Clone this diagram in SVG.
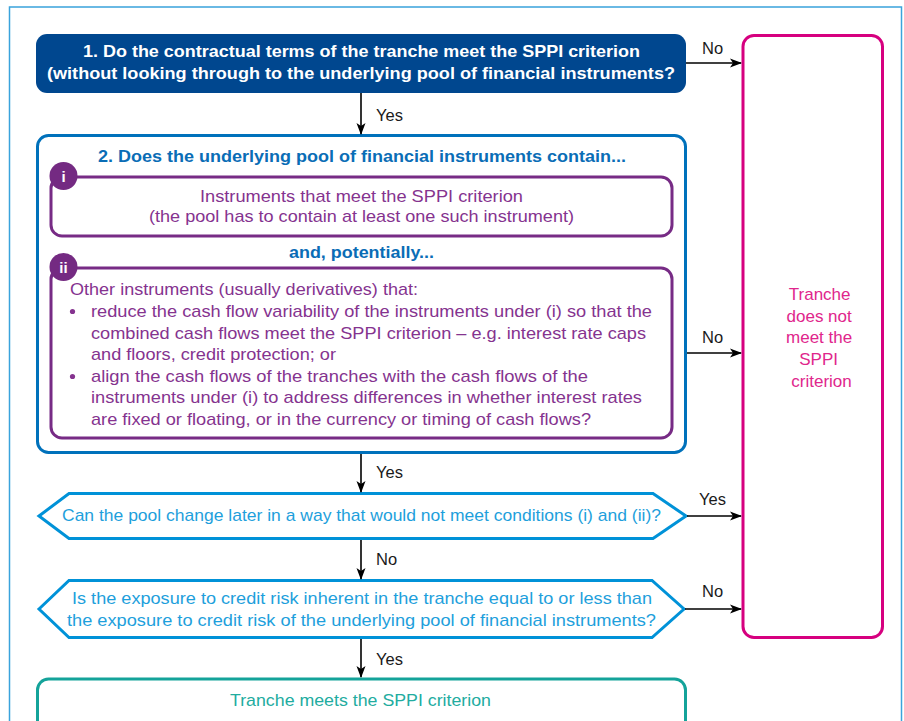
<svg xmlns="http://www.w3.org/2000/svg" width="904" height="721" viewBox="0 0 904 721">
<defs>
<marker id="ah" markerWidth="12" markerHeight="10" refX="11" refY="5" orient="auto" markerUnits="userSpaceOnUse">
<path d="M0,0.5 L12,5 L0,9.5 L3,5 Z" fill="#000"/>
</marker>
<style>
text{font-family:"Liberation Sans",Arial,sans-serif;}
.lbl{font-size:16.5px;fill:#1a1a1a;}
.conn{stroke:#000;stroke-width:1.6;fill:none;marker-end:url(#ah);}
.q1{font-size:17px;font-weight:bold;fill:#fff;text-anchor:middle;}
.q2{font-size:17px;font-weight:bold;fill:#0A6DB6;text-anchor:middle;}
.pt{font-size:17px;fill:#85338F;}
.hex{fill:#fff;stroke:#0092D8;stroke-width:3;}
.ht{font-size:17px;fill:#1E9FDC;text-anchor:middle;}
.badge{fill:#742A82;}
.bt{font-size:15px;font-weight:bold;fill:#fff;text-anchor:middle;}
</style>
</defs>
<rect x="0" y="0" width="904" height="721" fill="#fff"/>
<rect x="9.5" y="7" width="892" height="740" fill="none" stroke="#3AA3DC" stroke-width="1.5"/>

<g id="q1">
<rect x="36" y="34" width="650" height="59" rx="11" fill="#00478F"/>
<text class="q1" x="361.5" y="57" textLength="557" lengthAdjust="spacingAndGlyphs">1. Do the contractual terms of the tranche meet the SPPI criterion</text>
<text class="q1" x="361" y="79" textLength="628" lengthAdjust="spacingAndGlyphs">(without looking through to the underlying pool of financial instruments?</text>
</g>

<g id="q2">
<rect x="37.5" y="135.5" width="648" height="317" rx="11" fill="#fff" stroke="#0071BB" stroke-width="3"/>
<text class="q2" x="362" y="162" textLength="528" lengthAdjust="spacingAndGlyphs">2. Does the underlying pool of financial instruments contain...</text>
<text class="q2" x="361.5" y="258" textLength="145" lengthAdjust="spacingAndGlyphs">and, potentially...</text>
</g>

<g id="cond-i">
<rect x="51" y="177" width="621" height="59" rx="11" fill="#fff" stroke="#772B85" stroke-width="3"/>
<circle class="badge" cx="63.5" cy="176" r="14"/>
<text class="bt" x="63.5" y="181.5">i</text>
<text class="pt" x="361.5" y="202" text-anchor="middle" textLength="323" lengthAdjust="spacingAndGlyphs">Instruments that meet the SPPI criterion</text>
<text class="pt" x="361.5" y="222" text-anchor="middle" textLength="425" lengthAdjust="spacingAndGlyphs">(the pool has to contain at least one such instrument)</text>
</g>

<g id="cond-ii">
<rect x="51" y="268" width="621" height="170" rx="11" fill="#fff" stroke="#772B85" stroke-width="3"/>
<circle class="badge" cx="63.5" cy="267" r="14"/>
<text class="bt" x="63.5" y="272.5">ii</text>
<text class="pt" x="70" y="295" textLength="348" lengthAdjust="spacingAndGlyphs">Other instruments (usually derivatives) that:</text>
<circle cx="72.5" cy="311.5" r="2.6" fill="#85338F"/>
<text class="pt" x="91" y="317" textLength="561" lengthAdjust="spacingAndGlyphs">reduce the cash flow variability of the instruments under (i) so that the</text>
<text class="pt" x="91" y="339" textLength="555" lengthAdjust="spacingAndGlyphs">combined cash flows meet the SPPI criterion – e.g. interest rate caps</text>
<text class="pt" x="91" y="360" textLength="245" lengthAdjust="spacingAndGlyphs">and floors, credit protection; or</text>
<circle cx="72.5" cy="376.5" r="2.6" fill="#85338F"/>
<text class="pt" x="91" y="382" textLength="497" lengthAdjust="spacingAndGlyphs">align the cash flows of the tranches with the cash flows of the</text>
<text class="pt" x="91" y="403" textLength="551" lengthAdjust="spacingAndGlyphs">instruments under (i) to address differences in whether interest rates</text>
<text class="pt" x="91" y="425" textLength="500" lengthAdjust="spacingAndGlyphs">are fixed or floating, or in the currency or timing of cash flows?</text>
</g>

<g id="fail">
<rect x="743" y="35.5" width="139.5" height="602" rx="11" fill="#fff" stroke="#D6007F" stroke-width="3"/>
<text font-size="17" fill="#E0268C" text-anchor="middle">
<tspan x="822" y="300">Tranche</tspan>
<tspan x="821.5" y="322">does not</tspan>
<tspan x="821.5" y="343">meet the</tspan>
<tspan x="821" y="365">SPPI</tspan>
<tspan x="821.5" y="387">criterion</tspan>
</text>
</g>

<g id="q3">
<polygon class="hex" points="39,516 69,493.5 653,493.5 686,516 653,538.5 69,538.5"/>
<text class="ht" x="361.5" y="521" textLength="599" lengthAdjust="spacingAndGlyphs">Can the pool change later in a way that would not meet conditions (i) and (ii)?</text>
</g>

<g id="q4">
<polygon class="hex" points="39,609 69,580.5 652,580.5 684,609 652,637.5 69,637.5"/>
<text class="ht" x="362" y="604" textLength="580" lengthAdjust="spacingAndGlyphs">Is the exposure to credit risk inherent in the tranche equal to or less than</text>
<text class="ht" x="361.5" y="626" textLength="589" lengthAdjust="spacingAndGlyphs">the exposure to credit risk of the underlying pool of financial instruments?</text>
</g>

<g id="pass">
<rect x="37.5" y="679" width="648" height="60" rx="11" fill="#fff" stroke="#14A39A" stroke-width="3"/>
<text x="360.5" y="706" font-size="17" fill="#22AC9F" text-anchor="middle" textLength="261" lengthAdjust="spacingAndGlyphs">Tranche meets the SPPI criterion</text>
</g>

<g id="connectors">
<line class="conn" x1="361" y1="93" x2="361" y2="134"/>
<text class="lbl" x="376" y="121">Yes</text>
<line class="conn" x1="686" y1="63" x2="741" y2="63"/>
<text class="lbl" x="702" y="54">No</text>
<line class="conn" x1="687" y1="353" x2="741" y2="353"/>
<text class="lbl" x="702" y="343">No</text>
<line class="conn" x1="361" y1="454" x2="361" y2="492"/>
<text class="lbl" x="376" y="478">Yes</text>
<line class="conn" x1="687" y1="516" x2="741" y2="516"/>
<text class="lbl" x="699" y="505">Yes</text>
<line class="conn" x1="361" y1="540" x2="361" y2="579"/>
<text class="lbl" x="376" y="565">No</text>
<line class="conn" x1="685" y1="609" x2="741" y2="609"/>
<text class="lbl" x="702" y="597">No</text>
<line class="conn" x1="361" y1="639" x2="361" y2="677"/>
<text class="lbl" x="376" y="665">Yes</text>
</g>
</svg>
